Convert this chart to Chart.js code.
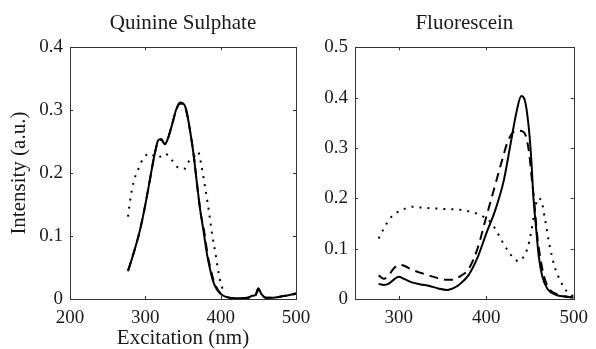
<!DOCTYPE html>
<html>
<head>
<meta charset="utf-8">
<script src="https://cdn.jsdelivr.net/npm/chart.js@4.4.0/dist/chart.umd.min.js"></script>
<style>
    body { margin: 0; background: #fff; }
    canvas { position: absolute; top: 0; }
    #qsChart { left: 0; }
    #flChart { left: 298px; }
</style>
</head>
<body>
<canvas id="qsChart" width="330" height="349"></canvas>
<canvas id="flChart" width="298" height="349"></canvas>
<script>
'use strict';

let qsTitle = 'Quinine Sulphate';
let flTitle = 'Fluorescein';
let xLabel = 'Excitation (nm)';
let yLabel = 'Intensity (a.u.)';

let qsXTicks = [200, 300, 400, 500];
let qsYTicks = [0, 0.1, 0.2, 0.3, 0.4];
let flXTicks = [300, 400, 500];
let flYTicks = [0, 0.1, 0.2, 0.3, 0.4, 0.5];

// Quinine sulphate
let qsSolidX = [277, 285, 293, 300, 306, 312, 317, 321, 326, 330, 335, 341, 346, 350, 354, 359, 364, 368, 373, 377, 382, 386, 390, 395, 400, 408, 420, 436, 442, 446, 450, 454, 460, 470, 480, 490, 500];
let qsSolidY = [0.044, 0.075, 0.11, 0.15, 0.189, 0.228, 0.252, 0.254, 0.246, 0.255, 0.275, 0.301, 0.312, 0.311, 0.302, 0.27, 0.23, 0.189, 0.14, 0.11, 0.07, 0.047, 0.028, 0.015, 0.008, 0.003, 0.001, 0.002, 0.005, 0.006, 0.017, 0.008, 0.002, 0.002, 0.004, 0.006, 0.009];
let qsDashX = [277, 285, 293, 300, 306, 312, 317, 321, 326, 330, 335, 341, 346, 350, 354, 359, 364, 368, 373, 378, 383, 387, 391, 396, 401, 409, 420, 436, 442, 446, 450, 454, 460, 470, 480, 490, 500];
let qsDashY = [0.045, 0.075, 0.11, 0.15, 0.189, 0.228, 0.25, 0.253, 0.246, 0.255, 0.275, 0.3, 0.31, 0.31, 0.3, 0.27, 0.23, 0.189, 0.14, 0.108, 0.068, 0.046, 0.028, 0.015, 0.008, 0.003, 0.001, 0.002, 0.004, 0.005, 0.015, 0.007, 0.002, 0.002, 0.004, 0.006, 0.008];
let qsDotX = [277, 280, 284, 292, 297, 306, 316, 326, 335, 342, 352, 358, 364, 370, 374, 379, 383, 386, 389, 393, 396, 399, 402, 405];
let qsDotY = [0.131, 0.158, 0.184, 0.21, 0.223, 0.231, 0.224, 0.231, 0.221, 0.21, 0.207, 0.219, 0.225, 0.234, 0.215, 0.18, 0.15, 0.126, 0.1, 0.073, 0.05, 0.031, 0.018, 0.008];

// Fluorescein
let flSolidX = [277, 283, 288, 294, 300, 306, 315, 325, 335, 345, 355, 362, 370, 380, 390, 400, 410, 420, 428, 435, 440, 444, 448, 451, 454, 457, 460, 464, 470, 480, 490, 500];
let flSolidY = [0.030, 0.028, 0.030, 0.038, 0.044, 0.040, 0.033, 0.029, 0.026, 0.021, 0.018, 0.021, 0.030, 0.048, 0.082, 0.13, 0.175, 0.235, 0.31, 0.375, 0.403, 0.395, 0.35, 0.29, 0.2, 0.14, 0.085, 0.045, 0.02, 0.008, 0.005, 0.003];
let flDashX = [277, 283, 288, 294, 300, 306, 315, 325, 340, 355, 362, 370, 380, 390, 400, 410, 418, 424, 430, 436, 441, 445, 449, 452, 455, 458, 462, 466, 472, 480, 490, 500];
let flDashY = [0.047, 0.040, 0.046, 0.060, 0.068, 0.066, 0.058, 0.052, 0.044, 0.038, 0.038, 0.045, 0.060, 0.100, 0.163, 0.225, 0.275, 0.31, 0.33, 0.334, 0.333, 0.325, 0.29, 0.24, 0.19, 0.13, 0.08, 0.045, 0.02, 0.01, 0.005, 0.003];
let flDotX = [277, 283, 290, 298, 305, 315, 330, 350, 370, 385, 395, 402, 410, 418, 425, 432, 437, 442, 447, 451, 455, 459, 463, 467, 472, 478, 485, 492, 500];
let flDotY = [0.12, 0.14, 0.16, 0.172, 0.178, 0.183, 0.181, 0.179, 0.177, 0.172, 0.165, 0.158, 0.14, 0.115, 0.095, 0.08, 0.075, 0.082, 0.1, 0.13, 0.17, 0.2, 0.195, 0.16, 0.11, 0.065, 0.035, 0.015, 0.005];

let serif = '"Liberation Serif", "DejaVu Serif", serif';
Chart.defaults.font.family = serif;
Chart.defaults.color = '#1a1a1a';

function toPoints(xs, ys) {
    let pts = [];
    for (let i = 0; i < xs.length; i++) {
        pts.push({ x: xs[i], y: ys[i] });
    }
    return pts;
}

// box round the plot with small inward ticks on all four sides
let framePlugin = {
    id: 'frame',
    afterDatasetsDraw(chart) {
        let ctx = chart.ctx;
        let area = chart.chartArea;
        let sx = chart.scales.x;
        let sy = chart.scales.y;
        let len = 3;
        ctx.save();
        ctx.strokeStyle = '#333';
        ctx.lineWidth = 1;
        ctx.beginPath();
        sx.ticks.forEach(t => {
            let px = Math.round(sx.getPixelForValue(t.value)) + 0.5;
            ctx.moveTo(px, area.bottom);
            ctx.lineTo(px, area.bottom - len);
            ctx.moveTo(px, area.top);
            ctx.lineTo(px, area.top + len);
        });
        sy.ticks.forEach(t => {
            let py = Math.round(sy.getPixelForValue(t.value)) + 0.5;
            ctx.moveTo(area.left, py);
            ctx.lineTo(area.left + len, py);
            ctx.moveTo(area.right, py);
            ctx.lineTo(area.right - len, py);
        });
        ctx.stroke();
        ctx.strokeRect(Math.round(area.left) + 0.5, Math.round(area.top) + 0.5,
            Math.round(area.right - area.left), Math.round(area.bottom - area.top));
        ctx.restore();
    }
};

function lineSet(points, dash, width) {
    return {
        data: points,
        borderColor: '#000',
        borderWidth: width,
        borderDash: dash,
        borderCapStyle: 'butt',
        pointRadius: 0,
        fill: false,
        cubicInterpolationMode: 'monotone'
    };
}

function makeChart(id, opts) {
    let ctx = document.getElementById(id).getContext('2d');
    return new Chart(ctx, {
        type: 'line',
        data: {
            datasets: [
                lineSet(toPoints(opts.dotX, opts.dotY), [2, 6], 2),
                lineSet(toPoints(opts.dashX, opts.dashY), [9, 6], 2),
                lineSet(toPoints(opts.solidX, opts.solidY), [], 2)
            ]
        },
        options: {
            responsive: false,
            animation: false,
            devicePixelRatio: 1,
            layout: { padding: { left: 0, right: opts.padRight, top: 0, bottom: 0 } },
            plugins: {
                legend: { display: false },
                tooltip: { enabled: false },
                title: {
                    display: true,
                    text: opts.title,
                    fullSize: false,
                    font: { family: serif, size: 21, weight: 'normal' },
                    padding: { top: 11, bottom: 11 }
                }
            },
            scales: {
                x: {
                    type: 'linear',
                    min: opts.xMin,
                    max: opts.xMax,
                    afterBuildTicks: s => { s.ticks = opts.xTicks.map(v => ({ value: v })); },
                    afterFit: s => { s.height = 50; },
                    grid: { display: false, drawTicks: false },
                    border: { display: false },
                    ticks: { padding: 8, autoSkip: false, maxRotation: 0, font: { family: serif, size: 19 } },
                    title: { display: opts.showX, text: xLabel, font: { family: serif, size: 21 }, padding: { top: 0, bottom: -2 } }
                },
                y: {
                    type: 'linear',
                    min: 0,
                    max: opts.yMax,
                    afterBuildTicks: s => { s.ticks = opts.yTicks.map(v => ({ value: v })); },
                    afterFit: s => { s.width = opts.yWidth; },
                    grid: { display: false, drawTicks: false },
                    border: { display: false },
                    ticks: { padding: 7, autoSkip: false, font: { family: serif, size: 19 } },
                    title: { display: opts.showY, text: yLabel, font: { family: serif, size: 21 }, padding: { top: 7, bottom: 0 } }
                }
            }
        },
        plugins: [framePlugin]
    });
}

makeChart('qsChart', {
    title: qsTitle, xMin: 200, xMax: 500, yMax: 0.4,
    xTicks: qsXTicks, yTicks: qsYTicks,
    solidX: qsSolidX, solidY: qsSolidY, dashX: qsDashX, dashY: qsDashY, dotX: qsDotX, dotY: qsDotY,
    yWidth: 70, padRight: 34, showX: true, showY: true
});

makeChart('flChart', {
    title: flTitle, xMin: 250, xMax: 500, yMax: 0.5,
    xTicks: flXTicks, yTicks: flYTicks,
    solidX: flSolidX, solidY: flSolidY, dashX: flDashX, dashY: flDashY, dotX: flDotX, dotY: flDotY,
    yWidth: 57, padRight: 14, showX: false, showY: false
});
</script>
</body>
</html>
